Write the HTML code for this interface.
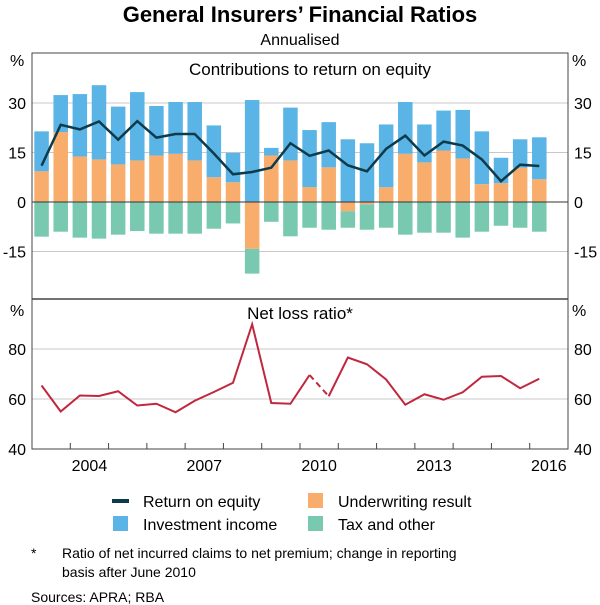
<!DOCTYPE html>
<html><head><meta charset="utf-8"><style>
body{margin:0;background:#fff}
svg{display:block;font-family:"Liberation Sans",Arial,sans-serif}
</style></head><body>
<svg id="chart" width="600" height="605" viewBox="0 0 600 605">
<text x="300" y="22" text-anchor="middle" font-size="22" font-weight="bold">General Insurers’ Financial Ratios</text>
<text x="300" y="45" text-anchor="middle" font-size="16">Annualised</text>
<g id="topPanel"></g><g id="botPanel"></g>
<g font-size="16">
<rect x="112" y="499" width="17" height="4" fill="#0d3b4c"/>
<text x="143" y="507">Return on equity</text>
<rect x="308" y="493" width="15" height="15" fill="#f8ad6d"/>
<text x="338" y="507">Underwriting result</text>
<rect x="113" y="516" width="15" height="15" fill="#5ab4e5"/>
<text x="143" y="530">Investment income</text>
<rect x="308" y="516" width="15" height="15" fill="#78c9b0"/>
<text x="338" y="530">Tax and other</text>
</g>
<g font-size="14">
<text x="31" y="558">*</text>
<text x="62" y="558">Ratio of net incurred claims to net premium; change in reporting</text>
<text x="62" y="577">basis after June 2010</text>
<text x="31" y="602">Sources:   APRA; RBA</text>
</g>
</svg>
<script>
const investment=[12.1,11.2,18.9,22.5,17.5,20.7,15.0,15.7,17.7,15.7,8.9,30.9,2.3,16.0,17.3,13.7,19.0,17.8,19.0,15.7,11.5,12.1,14.7,16.0,7.7,8.6,12.7];
const underwriting=[9.3,21.2,13.8,12.9,11.4,12.6,14.1,14.6,12.6,7.5,6.0,-14.2,14.1,12.6,4.5,10.5,-2.8,-0.7,4.5,14.6,12.0,15.6,13.2,5.4,5.7,10.4,6.9];
const taxOther=[-10.5,-9.0,-10.8,-11.1,-9.9,-8.8,-9.6,-9.6,-9.6,-8.1,-6.5,-7.5,-6.0,-10.4,-7.8,-8.4,-5.0,-7.7,-7.8,-9.9,-9.3,-9.3,-10.8,-9.0,-7.2,-7.8,-9.0];
const roe=[11,23.4,22,24.4,18.9,24.5,19.5,20.6,20.6,14.7,8.4,9.1,10.4,17.8,14,15.6,11.1,9.3,16.1,20.1,14.1,18.3,17.1,12.9,6.3,11.3,10.9];
const lossRatio=[65.4,55,61.4,61.2,63.1,57.4,58.1,54.7,59.3,62.8,66.5,89.9,58.4,58.1,69.6,61.1,76.6,73.9,67.8,57.7,61.9,59.7,62.7,68.9,69.2,64.3,68.1];
const yearLabels=[2004,2007,2010,2013,2016];
const topTicks=[30,15,0,-15];
const botTicks=[80,60,40];

const NS="http://www.w3.org/2000/svg";
const X0=32,X1=568,Y0=2003,Y1=2017;
const x=t=>X0+(t-Y0)/(Y1-Y0)*(X1-X0);
const tOf=i=>2003.25+0.5*i;
const yT=v=>202-v*3.3;
const yB=v=>449-(v-40)*2.5;
function el(tag,attrs,parent,txt){const e=document.createElementNS(NS,tag);for(const k in attrs)e.setAttribute(k,attrs[k]);if(txt!==undefined)e.textContent=txt;parent.appendChild(e);return e;}
const topG=document.getElementById('topPanel'),botG=document.getElementById('botPanel');
topTicks.forEach(v=>{if(v!==0)el('line',{x1:X0,x2:X1,y1:yT(v),y2:yT(v),stroke:'#c8c8c8','stroke-width':1},topG);
 [[X0-6,'end'],[X1+6,'start']].forEach(([xx,a])=>{const t=el('text',{x:xx,y:yT(v)+6,'text-anchor':a,'font-size':16},topG,String(v));
 
 });});
botTicks.forEach(v=>{if(v!==40)el('line',{x1:X0,x2:X1,y1:yB(v),y2:yB(v),stroke:'#c8c8c8','stroke-width':1},botG);
 [[X0-6,'end'],[X1+6,'start']].forEach(([xx,a])=>{const t=el('text',{x:xx,y:yB(v)+6,'text-anchor':a,'font-size':16},botG,String(v));
 
 });});
[[10,66],[572,66],[10,316],[572,316]].forEach(([xx,yy])=>el('text',{x:xx,y:yy,'font-size':16},topG,'%'));
const bw=14.5;
function bar(t,a,b,c,name){const y1=Math.min(yT(a),yT(b)),h=Math.abs(yT(a)-yT(b));if(h<=0)return;const r=el('rect',{x:x(t)-bw/2,y:y1,width:bw,height:h,fill:c},topG);
 
 }
investment.forEach((v,i)=>{const t=tOf(i);const u=underwriting[i];
 const up=Math.max(u,0);bar(t,0,up,'#f8ad6d','bar-underwriting');
 bar(t,up,up+v,'#5ab4e5','bar-investment');
 const dn=Math.min(u,0);bar(t,0,dn,'#f8ad6d','bar-underwriting');
 bar(t,dn,dn+taxOther[i],'#78c9b0','bar-tax-other');
});
el('line',{x1:X0,x2:X1,y1:yT(0),y2:yT(0),stroke:'#333','stroke-width':1},topG);
const rl=el('polyline',{points:roe.map((v,i)=>x(tOf(i))+','+yT(v)).join(' '),fill:'none',stroke:'#0d3b4c','stroke-width':2.5},topG);


el('text',{x:310,y:75,'text-anchor':'middle','font-size':17},topG,'Contributions to return on equity');
const pts=lossRatio.map((v,i)=>[x(tOf(i)),yB(v)]);
const p1=el('polyline',{points:pts.slice(0,15).map(p=>p.join(',')).join(' '),fill:'none',stroke:'#c1273e','stroke-width':2},botG);


const p2=el('polyline',{points:pts.slice(14,16).map(p=>p.join(',')).join(' '),fill:'none',stroke:'#c1273e','stroke-width':2,'stroke-dasharray':'6,4'},botG);


const p3=el('polyline',{points:pts.slice(15).map(p=>p.join(',')).join(' '),fill:'none',stroke:'#c1273e','stroke-width':2},botG);


el('text',{x:300,y:319,'text-anchor':'middle','font-size':17},botG,'Net loss ratio*');
el('rect',{x:X0,y:53,width:X1-X0,height:396,fill:'none',stroke:'#444','stroke-width':1},botG);
el('line',{x1:X0,x2:X1,y1:299,y2:299,stroke:'#444','stroke-width':1.5},botG);
for(let yr=2004;yr<2017;yr++)el('line',{x1:x(yr),x2:x(yr),y1:449,y2:443,stroke:'#444'},botG);
yearLabels.forEach(yr=>{const t=el('text',{x:x(yr+0.5),y:471,'text-anchor':'middle','font-size':16},botG,String(yr));
 
 });
</script>
</body></html>
